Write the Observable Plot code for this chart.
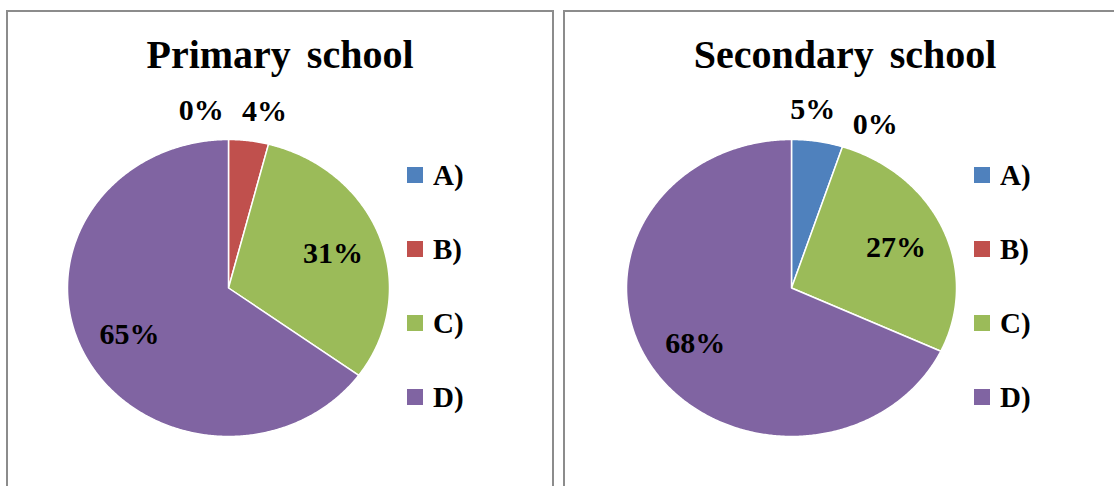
<!DOCTYPE html>
<html>
<head>
<meta charset="utf-8">
<script src="https://cdn.jsdelivr.net/npm/d3@7"></script>
<script src="https://cdn.jsdelivr.net/npm/@observablehq/plot@0.6"></script>
<style>
  html, body { margin: 0; padding: 0; background: #fff; }
  #chart { position: relative; width: 1114px; height: 486px; overflow: hidden; background: #fff; }
  .panel { position: absolute; top: 10px; height: 500px; border: 2px solid #8c8c8c; box-sizing: border-box; background: #fff; }
  .panel > svg { position: absolute; left: 0; top: 0; }
  .title { position: absolute; left: 0; right: 0; top: 22.5px; text-align: center; white-space: nowrap;
           font: bold 40px "Liberation Serif", "Times New Roman", serif; line-height: 40px; color: #000; word-spacing: 6px; }
  .leg-swatches.leg-swatches-columns { position: absolute; width: 120px; margin: 0; color: #000;
           font: bold 29px "Liberation Serif", "Times New Roman", serif; }
  .leg-swatches .leg-swatch { display: flex; align-items: center; height: 74px; padding: 0; margin: 0; }
  .leg-swatches .leg-swatch > svg { margin-right: 10px; }
</style>
</head>
<body>
<div id="chart"></div>
<script>
// Answer categories, in clockwise order from twelve o'clock
const categories = ["A)", "B)", "C)", "D)"];
// Share of answers (%) for each school level
const primaryShares = [0, 4, 31, 65];
const secondaryShares = [5, 0, 27, 68];
const panelTitles = ["Primary school", "Secondary school"];

const palette = ["#4F81BD", "#C0504D", "#9BBB59", "#8064A2"];

// Panel boxes and pie geometry (pixels inside each bordered panel)
const panels = [
  {title: panelTitles[0], shares: primaryShares, left: 6, width: 548, cx: 220, rx: 161, legendX: 399},
  {title: panelTitles[1], shares: secondaryShares, left: 563, width: 564, cx: 226, rx: 165, legendX: 409}
];
const plotHeight = 474;
const cy = 275.5, ry = 148.5;

// Turn shares into angular extents (radians, clockwise from the top)
function slices(shares) {
  const total = d3.sum(shares);
  let acc = 0;
  return categories.map((key, i) => {
    const a0 = acc / total * 2 * Math.PI;
    acc += shares[i];
    const a1 = acc / total * 2 * Math.PI;
    return {key, value: shares[i], a0, a1};
  });
}

// Closed outline of one wedge in unit-circle coordinates
function outline(s) {
  const pts = [{key: s.key, x: 0, y: 0}];
  const n = Math.max(2, Math.ceil((s.a1 - s.a0) / (Math.PI / 360)));
  for (let k = 0; k <= n; k++) {
    const a = s.a0 + (s.a1 - s.a0) * k / n;
    pts.push({key: s.key, x: Math.sin(a), y: Math.cos(a)});
  }
  pts.push({key: s.key, x: 0, y: 0});
  return pts;
}

// Percentage labels: big wedges inside, small ones outside, crowded ones fanned apart
function labels(sl) {
  const inner = [], outer = [];
  for (const s of sl) {
    const mid = (s.a0 + s.a1) / 2;
    const small = s.value < 10;
    (small ? outer : inner).push({text: `${s.value}%`, value: s.value, angle: mid, r: small ? 1.21 : 0.69});
  }
  const minGap = 18.7 * Math.PI / 180;
  outer.sort((a, b) => a.angle - b.angle);
  for (let iter = 0; iter < 20; iter++) {
    let moved = false;
    for (let k = 1; k < outer.length; k++) {
      const gap = outer[k].angle - outer[k - 1].angle;
      if (gap < minGap - 1e-9) {
        const need = minGap - gap;
        // empty categories give way more than real wedges
        const w0 = outer[k - 1].value === 0 ? 0.7 : 0.3;
        const w1 = outer[k].value === 0 ? 0.7 : 0.3;
        outer[k - 1].angle -= need * w0 / (w0 + w1);
        outer[k].angle += need * w1 / (w0 + w1);
        moved = true;
      }
    }
    if (!moved) break;
  }
  return [...inner, ...outer].map(l => ({...l, x: l.r * Math.sin(l.angle), y: l.r * Math.cos(l.angle)}));
}

const chart = document.getElementById("chart");

for (const p of panels) {
  const box = document.createElement("div");
  box.className = "panel";
  box.style.left = p.left + "px";
  box.style.width = p.width + "px";
  chart.appendChild(box);

  const innerW = p.width - 4;
  const sl = slices(p.shares);
  const polys = sl.filter(s => s.value > 0).flatMap(outline);
  const lbls = labels(sl);

  const svg = Plot.plot({
    width: innerW,
    height: plotHeight,
    margin: 0,
    x: {domain: [-1, 1], range: [p.cx - p.rx, p.cx + p.rx], axis: null},
    y: {domain: [-1, 1], range: [cy + ry, cy - ry], axis: null},
    color: {domain: categories, range: palette},
    style: {background: "transparent", overflow: "visible"},
    marks: [
      Plot.line(polys, {x: "x", y: "y", z: "key", fill: "key", stroke: "white", strokeWidth: 1.5, strokeLinejoin: "round"}),
      Plot.text(lbls, {x: "x", y: "y", text: "text", fill: "black", fontSize: 30, fontWeight: "bold",
                       fontFamily: "Liberation Serif, Times New Roman, serif"})
    ]
  });
  box.appendChild(svg);

  const title = document.createElement("div");
  title.className = "title";
  title.textContent = p.title;
  box.appendChild(title);

  const legend = Plot.legend({
    color: {domain: categories, range: palette},
    legend: "swatches",
    columns: 1,
    swatchSize: 16,
    className: "leg"
  });
  legend.style.left = p.legendX + "px";
  legend.style.top = "126px";
  box.appendChild(legend);
}
</script>
</body>
</html>
